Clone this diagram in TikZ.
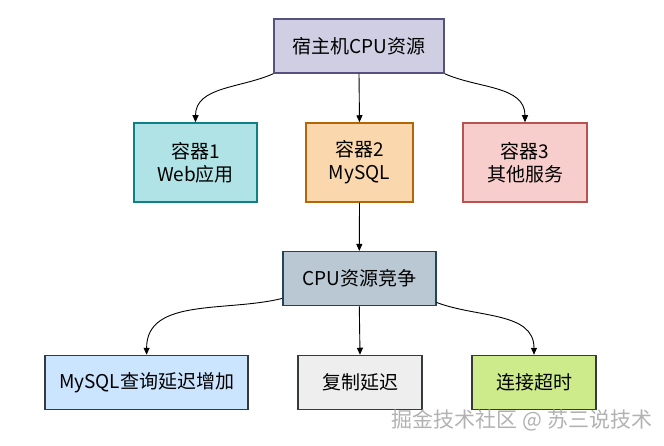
\documentclass[tikz,border=0pt]{standalone}
\usepackage{fontspec}
\setmainfont{Noto Sans CJK SC}
\usetikzlibrary{arrows.meta}
\definecolor{lavfill}{HTML}{D0CEE2}\definecolor{lavline}{HTML}{56517E}
\definecolor{tealfill}{HTML}{B0E3E6}\definecolor{tealline}{HTML}{0E8088}
\definecolor{orfill}{HTML}{FAD7AC}\definecolor{orline}{HTML}{B46504}
\definecolor{redfill}{HTML}{F8CECC}\definecolor{redline}{HTML}{B85450}
\definecolor{slatefill}{HTML}{BAC8D3}\definecolor{slateline}{HTML}{23445D}
\definecolor{bluefill}{HTML}{CCE5FF}\definecolor{greyfill}{HTML}{EEEEEE}
\definecolor{greenfill}{HTML}{CDEB8B}\definecolor{darkline}{HTML}{36393D}
\tikzset{box/.style={draw, line width=1.5pt, minimum height=54pt, inner sep=0pt, align=center, font=\fontsize{19}{23}\selectfont},
  link/.style={-{Triangle[length=7pt,width=6pt]}, line width=0.9pt}}

\begin{document}
\begin{tikzpicture}[x=1pt,y=1pt]
\useasboundingbox (0,0) rectangle (664,445);
\node[box, fill=lavfill, draw=lavline, minimum width=170pt] (host) at (359,399) {宿主机CPU资源};
\node[box, fill=tealfill, draw=tealline, minimum width=123pt, minimum height=79pt] (web) at (195.5,282.5) {容器1\\Web应用};
\node[box, fill=orfill, draw=orline, minimum width=107pt, minimum height=79pt] (mysql) at (359.5,282.5) {容器2\\MySQL};
\node[box, fill=redfill, draw=redline, minimum width=124pt, minimum height=79pt] (other) at (525,282.5) {容器3\\其他服务};
\node[box, fill=slatefill, draw=slateline, minimum width=153pt] (race) at (359.3,166.3) {CPU资源竞争};
\node[box, fill=bluefill, draw=darkline, minimum width=203pt] (slow) at (146.6,62.5) {MySQL查询延迟增加};
\node[box, fill=greyfill, draw=darkline, minimum width=124pt] (lag) at (360,62.5) {复制延迟};
\node[box, fill=greenfill, draw=darkline, minimum width=124pt] (timeout) at (534,62.5) {连接超时};
\draw[link] (host.south west) to[out=204,in=90] (web.north);
\draw[link] (host.south) -- (mysql.north);
\draw[link] (host.south east) to[out=-24,in=90] (other.north);
\draw[link] (mysql.south) -- (race.north);
\draw[link] ([yshift=8pt]race.south west) to[out=194,in=90] (slow.north);
\draw[link] (race.south) -- (lag.north);
\draw[link] ([yshift=4pt]race.south east) to[out=-21,in=90] (timeout.north);
\node[text=gray!60, font=\fontsize{21}{21}\selectfont] (mark) at (522,25) {掘金技术社区 @ 苏三说技术};
\end{tikzpicture}
\end{document}
